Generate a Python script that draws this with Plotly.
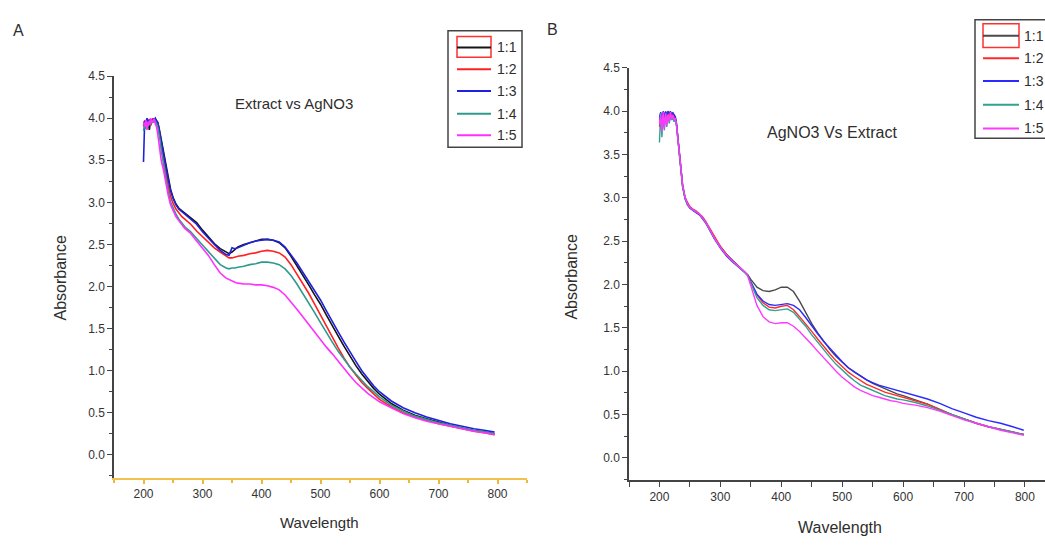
import plotly.graph_objects as go

W, H = 1045, 556
FONT = "Liberation Sans, Arial, sans-serif"

# ---------------- Panel A : Extract vs AgNO3 ----------------
wl_a = [200, 202, 204, 206, 208, 210, 212, 214, 216, 218, 220, 222, 224, 226, 228,
        230, 234, 238, 242, 246, 250, 255, 260, 265, 270, 275, 280,
        290, 300, 310, 320, 330, 340, 345, 350, 355, 360,
        370, 380, 390, 400, 410, 420, 430, 440, 450, 460, 470, 480, 490, 500,
        510, 520, 530, 540, 550, 560, 570, 580, 590, 600,
        620, 640, 660, 680, 700, 720, 740, 760, 780, 795]

a_11 = [3.92, 3.97, 3.90, 3.99, 3.94, 3.86, 3.98, 3.95, 4.00, 3.96, 3.99, 3.97, 3.95, 3.90, 3.82,
        3.74, 3.60, 3.45, 3.28, 3.15, 3.06, 2.98, 2.93, 2.90, 2.87, 2.85, 2.82,
        2.76, 2.67, 2.59, 2.51, 2.45, 2.41, 2.39, 2.41, 2.44, 2.47,
        2.50, 2.52, 2.54, 2.56, 2.56, 2.55, 2.52, 2.46, 2.36, 2.25, 2.13, 2.02, 1.90, 1.79,
        1.66, 1.53, 1.41, 1.29, 1.17, 1.06, 0.96, 0.87, 0.79, 0.72,
        0.61, 0.53, 0.47, 0.43, 0.39, 0.35, 0.32, 0.29, 0.27, 0.25]

a_12 = [3.90, 3.96, 3.88, 3.98, 3.93, 3.99, 3.91, 3.97, 4.00, 3.95, 3.98, 3.96, 3.93, 3.87, 3.78,
        3.68, 3.52, 3.35, 3.19, 3.07, 2.99, 2.92, 2.87, 2.83, 2.80, 2.77, 2.74,
        2.66, 2.59, 2.52, 2.46, 2.41, 2.36, 2.34, 2.34, 2.35, 2.36,
        2.37, 2.39, 2.40, 2.42, 2.43, 2.42, 2.40, 2.35, 2.26, 2.15, 2.04, 1.92, 1.79, 1.66,
        1.52, 1.39, 1.27, 1.15, 1.04, 0.95, 0.86, 0.79, 0.72, 0.66,
        0.57, 0.50, 0.45, 0.41, 0.37, 0.34, 0.31, 0.28, 0.26, 0.24]

a_13 = [3.48, 3.97, 3.93, 4.00, 3.95, 3.98, 3.92, 3.99, 3.96, 3.98, 4.00, 3.97, 3.95, 3.88, 3.80,
        3.72, 3.58, 3.43, 3.27, 3.14, 3.05, 2.97, 2.92, 2.89, 2.86, 2.83, 2.80,
        2.74, 2.65, 2.57, 2.50, 2.43, 2.38, 2.37, 2.46, 2.45, 2.46,
        2.49, 2.52, 2.54, 2.55, 2.56, 2.55, 2.53, 2.47, 2.38, 2.28, 2.17, 2.06, 1.95, 1.84,
        1.71, 1.58, 1.46, 1.34, 1.22, 1.11, 1.00, 0.91, 0.82, 0.75,
        0.64, 0.56, 0.50, 0.45, 0.41, 0.37, 0.34, 0.31, 0.29, 0.27]

a_14 = [3.85, 3.93, 3.87, 3.96, 3.90, 3.97, 3.92, 3.98, 3.95, 3.99, 3.96, 3.94, 3.90, 3.83, 3.74,
        3.62, 3.45, 3.28, 3.12, 3.00, 2.93, 2.86, 2.80, 2.75, 2.71, 2.68, 2.65,
        2.57, 2.49, 2.41, 2.33, 2.26, 2.22, 2.21, 2.22, 2.22, 2.23,
        2.24, 2.26, 2.27, 2.29, 2.29, 2.28, 2.26, 2.21, 2.13, 2.03, 1.92, 1.81, 1.69, 1.57,
        1.45, 1.34, 1.23, 1.13, 1.04, 0.96, 0.88, 0.81, 0.75, 0.69,
        0.59, 0.52, 0.46, 0.42, 0.38, 0.35, 0.32, 0.29, 0.27, 0.25]

a_15 = [3.95, 3.90, 3.98, 3.86, 3.96, 3.92, 4.00, 3.94, 3.97, 3.99, 3.93, 3.90, 3.82, 3.70, 3.60,
        3.50, 3.38, 3.22, 3.08, 2.97, 2.90, 2.83, 2.78, 2.73, 2.69, 2.66, 2.63,
        2.54, 2.46, 2.37, 2.26, 2.16, 2.10, 2.08, 2.06, 2.05, 2.04,
        2.03, 2.03, 2.02, 2.02, 2.01, 1.99, 1.96, 1.90, 1.82, 1.73, 1.64, 1.55, 1.45, 1.36,
        1.28, 1.20, 1.11, 1.02, 0.94, 0.86, 0.79, 0.73, 0.68, 0.63,
        0.56, 0.49, 0.44, 0.40, 0.37, 0.34, 0.31, 0.28, 0.26, 0.24]

# ---------------- Panel B : AgNO3 vs Extract ----------------
wl_b = [200, 202, 204, 206, 208, 210, 212, 214, 216, 218, 220, 222, 224, 226, 228,
        230, 234, 238, 242, 246, 250, 255, 260, 265, 270, 275, 280,
        290, 300, 310, 320, 330, 340, 345, 350, 355, 360,
        370, 380, 390, 400, 410, 420, 430, 440, 450, 460, 470, 480, 490, 500,
        510, 520, 530, 540, 550, 560, 570, 580, 590, 600,
        620, 640, 660, 680, 700, 720, 740, 760, 780, 798]

b_11 = [3.90, 3.98, 3.88, 3.99, 3.93, 4.00, 3.95, 3.99, 3.97, 4.00, 3.96, 3.98, 3.95, 3.93, 3.85,
        3.72, 3.42, 3.15, 3.01, 2.93, 2.89, 2.86, 2.84, 2.81, 2.78, 2.73, 2.67,
        2.54, 2.44, 2.35, 2.28, 2.21, 2.15, 2.11, 2.06, 2.01, 1.97,
        1.93, 1.92, 1.94, 1.97, 1.97, 1.92, 1.81, 1.68, 1.55, 1.44, 1.34, 1.25, 1.17, 1.10,
        1.04, 0.99, 0.94, 0.90, 0.86, 0.83, 0.80, 0.77, 0.74, 0.72,
        0.67, 0.62, 0.56, 0.50, 0.45, 0.40, 0.36, 0.33, 0.30, 0.27]

b_12 = [3.82, 3.97, 3.80, 3.98, 3.86, 3.99, 3.90, 3.97, 3.93, 3.99, 3.95, 3.97, 3.94, 3.92, 3.84,
        3.70, 3.41, 3.13, 3.00, 2.94, 2.90, 2.87, 2.85, 2.82, 2.79, 2.74, 2.68,
        2.55, 2.44, 2.35, 2.27, 2.21, 2.15, 2.11, 2.03, 1.95, 1.88,
        1.79, 1.74, 1.73, 1.75, 1.76, 1.71, 1.63, 1.55, 1.46, 1.37, 1.28, 1.20, 1.12, 1.05,
        0.99, 0.94, 0.89, 0.85, 0.82, 0.79, 0.76, 0.74, 0.72, 0.70,
        0.66, 0.62, 0.56, 0.50, 0.45, 0.40, 0.36, 0.33, 0.30, 0.27]

b_13 = [3.92, 3.99, 3.90, 4.00, 3.94, 3.99, 3.96, 4.00, 3.98, 3.99, 3.97, 3.98, 3.96, 3.94, 3.86,
        3.71, 3.40, 3.14, 2.99, 2.92, 2.88, 2.85, 2.83, 2.81, 2.77, 2.72, 2.66,
        2.53, 2.42, 2.33, 2.26, 2.20, 2.14, 2.11, 2.03, 1.96, 1.89,
        1.81, 1.77, 1.76, 1.77, 1.78, 1.76, 1.71, 1.62, 1.52, 1.43, 1.34, 1.26, 1.18, 1.11,
        1.04, 0.99, 0.94, 0.90, 0.87, 0.84, 0.82, 0.80, 0.78, 0.76,
        0.72, 0.68, 0.63, 0.57, 0.52, 0.47, 0.43, 0.40, 0.36, 0.32]

b_14 = [3.64, 3.98, 3.70, 3.96, 3.78, 3.97, 3.82, 3.95, 3.86, 3.94, 3.90, 3.92, 3.88, 3.90, 3.83,
        3.68, 3.39, 3.13, 3.00, 2.93, 2.89, 2.86, 2.84, 2.82, 2.78, 2.73, 2.67,
        2.54, 2.43, 2.34, 2.27, 2.21, 2.14, 2.10, 2.02, 1.93, 1.85,
        1.76, 1.71, 1.70, 1.71, 1.72, 1.68, 1.60, 1.52, 1.42, 1.33, 1.24, 1.16, 1.08, 1.01,
        0.95, 0.89, 0.84, 0.81, 0.78, 0.75, 0.72, 0.70, 0.68, 0.67,
        0.64, 0.60, 0.55, 0.50, 0.45, 0.40, 0.36, 0.33, 0.30, 0.27]

b_15 = [3.85, 3.96, 3.76, 3.99, 3.80, 3.98, 3.84, 3.96, 3.88, 3.99, 3.91, 3.95, 3.90, 3.92, 3.84,
        3.69, 3.40, 3.15, 3.01, 2.93, 2.89, 2.86, 2.84, 2.82, 2.78, 2.73, 2.67,
        2.54, 2.43, 2.34, 2.27, 2.21, 2.15, 2.10, 1.98, 1.87, 1.76,
        1.63, 1.57, 1.55, 1.56, 1.56, 1.52, 1.46, 1.39, 1.31, 1.23, 1.15, 1.07, 1.00, 0.93,
        0.87, 0.82, 0.78, 0.75, 0.72, 0.70, 0.68, 0.66, 0.65, 0.63,
        0.61, 0.58, 0.54, 0.49, 0.44, 0.40, 0.36, 0.32, 0.29, 0.26]

ratios = ["1:1", "1:2", "1:3", "1:4", "1:5"]
colors_a = ["#151515", "#ff2020", "#2020e0", "#2e9a8c", "#ff30ff"]
colors_b = ["#4a4a4a", "#ff2a2a", "#2a2aff", "#33a090", "#ff38ff"]

fig = go.Figure()

for name, ys, col in zip(ratios, [a_11, a_12, a_13, a_14, a_15], colors_a):
    fig.add_trace(go.Scatter(x=wl_a, y=ys, mode="lines", name=name,
                             line=dict(color=col, width=1.6),
                             xaxis="x", yaxis="y", showlegend=False))

for name, ys, col in zip(ratios, [b_11, b_12, b_13, b_14, b_15], colors_b):
    fig.add_trace(go.Scatter(x=wl_b, y=ys, mode="lines", name=name,
                             line=dict(color=col, width=1.4),
                             xaxis="x2", yaxis="y2", showlegend=False))


def px(x):
    return x / W


def py(y):
    return 1 - y / H


tickfont = dict(family=FONT, size=12, color="#333333")
axis_common = dict(showgrid=False, zeroline=False, showline=True, ticks="outside",
                   tickfont=tickfont, mirror=False)

fig.update_layout(
    width=W, height=H,
    margin=dict(l=0, r=0, t=0, b=0),
    paper_bgcolor="white", plot_bgcolor="white",
    xaxis=dict(**axis_common, domain=[px(114), px(527)], range=[150, 850],
               tick0=200, dtick=100, linecolor="#f2c04c", linewidth=2,
               tickcolor="#e8b840", ticklen=4, tickwidth=1.5,
               minor=dict(dtick=50, tick0=150, ticklen=3, tickcolor="#e8b840", ticks="outside"),
               anchor="y"),
    yaxis=dict(**axis_common, domain=[py(477), py(70)], range=[-0.275, 4.5],
               tick0=0, dtick=0.5, tickformat=".1f", linecolor="#444", linewidth=1.5,
               tickcolor="#444", ticklen=5, tickwidth=1.2,
               minor=dict(dtick=0.25, ticklen=3, tickcolor="#444", ticks="outside"),
               anchor="x"),
    xaxis2=dict(**axis_common, domain=[px(629), 1.0], range=[150, 832.9],
                tick0=200, dtick=100, linecolor="#444", linewidth=1.5,
                tickcolor="#444", ticklen=5, tickwidth=1.2,
                minor=dict(dtick=50, tick0=150, ticklen=5, tickcolor="#444", ticks="outside"),
                anchor="y2"),
    yaxis2=dict(**axis_common, domain=[py(479), py(61.7)], range=[-0.254, 4.5],
                tick0=0, dtick=0.5, tickformat=".1f", linecolor="#444", linewidth=1.5,
                tickcolor="#444", ticklen=5, tickwidth=1.2,
                minor=dict(dtick=0.25, ticklen=3, tickcolor="#444", ticks="outside"),
                anchor="x2"),
)

txt = dict(family=FONT, color="#2e2e2e")
annotations = [
    dict(text="A", x=px(18), y=py(24), font=dict(**txt, size=16)),
    dict(text="B", x=px(552), y=py(23), font=dict(**txt, size=16)),
    dict(text="Extract vs AgNO3", x=px(294), y=py(98), font=dict(**txt, size=15)),
    dict(text="AgNO3 Vs Extract", x=px(832), y=py(127), font=dict(**txt, size=16)),
    dict(text="Absorbance", x=px(61), y=py(275), textangle=-90, font=dict(**txt, size=16)),
    dict(text="Absorbance", x=px(572), y=py(274), textangle=-90, font=dict(**txt, size=16)),
    dict(text="Wavelength", x=px(319), y=py(522), font=dict(**txt, size=15)),
    dict(text="Wavelength", x=px(840), y=py(527), font=dict(**txt, size=16)),
]
for a in annotations:
    a.update(xref="paper", yref="paper", showarrow=False, xanchor="center", yanchor="middle")

shapes = []


def draw_legend(box, rows, line_x, rect_y, text_x, colors):
    x0, y0, x1, y1 = box
    shapes.append(dict(type="rect", xref="paper", yref="paper",
                       x0=px(x0), x1=px(x1), y0=py(y1), y1=py(y0),
                       line=dict(color="#444", width=1.5), fillcolor="rgba(0,0,0,0)"))
    # framed key for the first ratio
    shapes.append(dict(type="rect", xref="paper", yref="paper",
                       x0=px(line_x[0]), x1=px(line_x[1]), y0=py(rect_y[1]), y1=py(rect_y[0]),
                       line=dict(color="#ff3030", width=1.5), fillcolor="rgba(0,0,0,0)"))
    for label, ry, col in zip(ratios, rows, colors):
        shapes.append(dict(type="line", xref="paper", yref="paper",
                           x0=px(line_x[0]), x1=px(line_x[1]), y0=py(ry), y1=py(ry),
                           line=dict(color=col, width=2)))
        annotations.append(dict(text=label, x=px(text_x), y=py(ry), xref="paper", yref="paper",
                                showarrow=False, xanchor="left", yanchor="middle",
                                font=dict(family=FONT, size=14, color="#2e2e2e")))


draw_legend((448, 24, 522, 142), [41, 63, 85, 108, 130], (457, 491), (30, 51), 495, colors_a)
draw_legend((975, 13, 1060, 133), [29, 52, 75, 99, 123], (983, 1019), (17, 41), 1022, colors_b)

fig.update_layout(annotations=annotations, shapes=shapes)

fig.write_html("out.html")
